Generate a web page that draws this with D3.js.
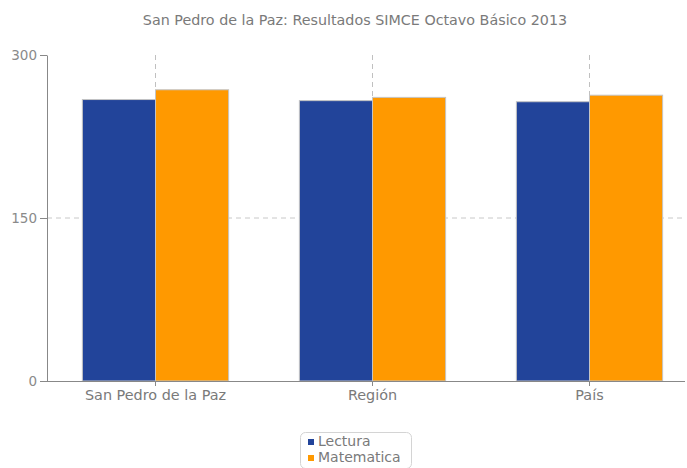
<!DOCTYPE html>
<html><head><meta charset="utf-8">
<script src="https://cdn.jsdelivr.net/npm/d3@7"></script>
<style>body{margin:0;background:#fff}svg{display:block}text{font-family:"DejaVu Sans",sans-serif}</style>
</head><body>
<script>
const title = "San Pedro de la Paz: Resultados SIMCE Octavo Básico 2013";
const categories = ["San Pedro de la Paz", "Región", "País"];
const seriesNames = ["Lectura", "Matematica"];
const lectura = [259, 258, 257];
const matematica = [268, 261, 263];
const yTicks = [0, 150, 300];
const colors = ["#22449a", "#ff9900"];

const W = 687, H = 468;
const svg = d3.select("body").append("svg").attr("width", W).attr("height", H);

const x0 = 47, x1 = 698, xEnd = 685;
const yTop = 55, yBot = 381;
const x = d3.scaleBand().domain(categories).range([x0, x1]).padding(0);
const y = d3.scaleLinear().domain([0, 300]).range([yBot, yTop]);
const groupW = x.bandwidth() * 0.674;
const xs = d3.scaleBand().domain(seriesNames).range([-groupW / 2, groupW / 2]).padding(0);

const data = categories.map((c, i) => ({cat: c, vals: [lectura[i], matematica[i]]}));

// title
svg.append("text").attr("x", 355).attr("y", 25).attr("text-anchor", "middle")
  .attr("fill", "#7a7a7a").style("font-size", "14.3px").text(title);

// horizontal dashed gridline at 150
svg.append("g").selectAll("line").data(yTicks.filter(t => t > 0 && t < 300)).join("line")
  .attr("x1", x0).attr("x2", xEnd).attr("y1", d => y(d)).attr("y2", d => y(d))
  .attr("stroke", "#c8c8c8").attr("stroke-dasharray", "5,4");

// vertical dashed gridlines at category centers
svg.append("g").selectAll("line").data(categories).join("line")
  .attr("x1", d => x(d) + x.bandwidth() / 2).attr("x2", d => x(d) + x.bandwidth() / 2)
  .attr("y1", yTop).attr("y2", yBot)
  .attr("stroke", "#c0c0c0").attr("stroke-dasharray", "5,4");

// bars
const g = svg.append("g").selectAll("g").data(data).join("g")
  .attr("transform", d => `translate(${x(d.cat) + x.bandwidth() / 2},0)`);
g.selectAll("rect").data(d => d.vals.map((v, i) => ({v, i}))).join("rect")
  .attr("x", d => xs(seriesNames[d.i]))
  .attr("width", xs.bandwidth())
  .attr("y", d => y(d.v))
  .attr("height", d => y(0) - y(d.v))
  .attr("fill", d => colors[d.i])
  .attr("stroke", "#c4c4c4").attr("stroke-width", 1);

// y axis
const yAxis = svg.append("g").attr("transform", `translate(${x0},0)`)
  .call(d3.axisLeft(y).tickValues(yTicks).tickSize(7).tickPadding(3).tickSizeOuter(0));
yAxis.select(".domain").attr("stroke", "#888");
yAxis.selectAll(".tick line").attr("stroke", "#888");
yAxis.selectAll(".tick text").attr("fill", "#8a8a8a").style("font-size", "13.5px").style("font-family", "DejaVu Sans");

// x axis
const xAxis = svg.append("g").attr("transform", `translate(0,${yBot})`)
  .call(d3.axisBottom(x).tickSize(5).tickPadding(4).tickSizeOuter(0));
xAxis.select(".domain").attr("d", `M${x0},0.5H${xEnd}`).attr("stroke", "#888");
xAxis.selectAll(".tick line").attr("stroke", "#888");
xAxis.selectAll(".tick text").attr("fill", "#7a7a7a").style("font-size", "14.4px").style("font-family", "DejaVu Sans");

// legend
const lg = svg.append("g");
lg.append("rect").attr("x", 300.5).attr("y", 432.5).attr("width", 111).attr("height", 36).attr("rx", 5)
  .attr("fill", "none").attr("stroke", "#d4d4d4");
const li = lg.selectAll("g").data(seriesNames).join("g")
  .attr("transform", (d, i) => `translate(308,${439 + i * 16})`);
li.append("rect").attr("width", 6).attr("height", 6).attr("fill", (d, i) => colors[i]);
li.append("text").attr("x", 10).attr("y", 7).attr("fill", "#7a7a7a").style("font-size", "14px").text(d => d);
</script>
</body></html>
